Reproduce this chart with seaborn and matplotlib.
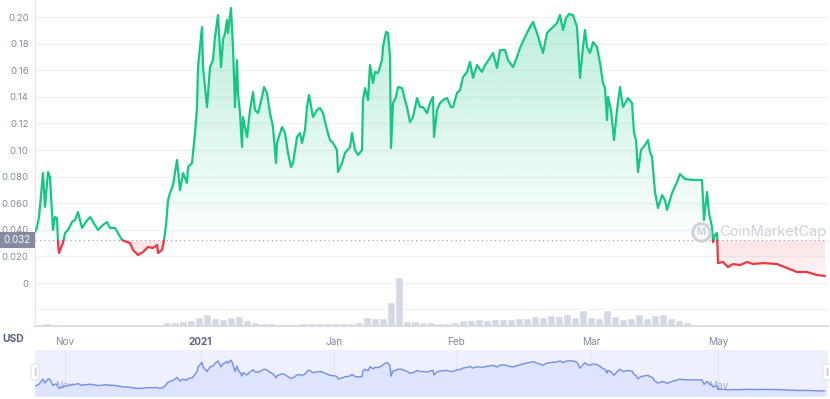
import numpy as np
import pandas as pd
import seaborn as sns
import matplotlib.pyplot as plt
import matplotlib.colors as mcolors
from matplotlib.path import Path
from matplotlib.lines import Line2D
from matplotlib.patches import Rectangle, FancyBboxPatch
from matplotlib.transforms import blended_transform_factory

# days since start of the window and price in USD
days = [0, 0.5, 1, 2, 2.5, 3.25, 3.75, 4.25, 4.5, 5, 5.5, 5.75, 6, 6.75, 7, 7.5, 8.25, 9.25, 10, 10.75,
        11.75, 12.5, 13.75, 15, 15.75, 17, 18, 18.75, 20, 20.75, 21.75, 23, 23.75, 24.5, 25.75, 27, 28.25,
        29.5, 30.5, 30.75, 31.75, 32.25, 32.75, 33.25, 33.75, 34.5, 35.5, 36.25, 37, 38, 38.25, 39.25, 40,
        40.5, 40.75, 41.75, 42, 43, 43.75, 44.5, 45, 45.75, 46.5, 47, 47.5, 48, 48.25, 49, 49.5, 50, 50.5,
        50.75, 51.25, 51.75, 52, 53, 53.75, 54.5, 55, 55.75, 56.75, 57.25, 58, 58.75, 59.5, 60.25, 60.5,
        61.75, 62.5, 63.25, 64, 64.5, 65.5, 66.25, 66.75, 67.5, 68, 68.5, 69.5, 70.5, 71.25, 72, 73, 73.75,
        74.5, 75.5, 75.75, 76.75, 77.5, 78.75, 79.25, 80, 80.75, 81.75, 82, 82.5, 83.25, 83.75, 84.5, 85,
        85.75, 86.75, 87, 87.75, 88.25, 88.75, 89, 89.5, 90.25, 90.75, 91.75, 92.5, 93, 93.75, 94.5, 95.5,
        96.25, 97, 98, 98.75, 99.5, 99.75, 100.5, 101.25, 102, 103, 104, 104.5, 105.5, 106.25, 107, 108,
        108.75, 109.5, 110.5, 111.75, 112.5, 113.75, 114.5, 115.5, 116.25, 117.5, 118.25, 119.5, 120.5,
        121.25, 122.5, 123.75, 124.5, 125.5, 126.25, 127, 128, 129.25, 130.5, 131.25, 132, 132.75, 133.5,
        134.5, 135.5, 136.25, 137, 137.5, 138, 138.75, 139.5, 140.5, 141.25, 142, 142.5, 143, 143.25, 144,
        144.75, 145.5, 146.25, 147, 148.25, 149.25, 149.75, 150.25, 150.75, 151.5, 152.5, 153.25, 153.75,
        154.25, 155, 155.75, 156.75, 157.5, 158, 159.25, 160.5, 161.25, 162.5, 164.5, 166.75, 167.25, 168,
        168.5, 169.25, 169.5, 170, 170.5, 170.75, 172, 173.25, 174.5, 176.25, 178, 179.5, 182, 185.5, 188,
        190.5, 193, 195.5, 197.5]
price = [0.0384, 0.0421, 0.0496, 0.0827, 0.0572, 0.0835, 0.0797, 0.0526, 0.0399, 0.0496, 0.0489, 0.0301,
         0.0226, 0.0286, 0.0301, 0.0376, 0.0399, 0.0459, 0.0474, 0.0534, 0.0414, 0.0451, 0.0496, 0.0436,
         0.0399, 0.0436, 0.0459, 0.0414, 0.0414, 0.0376, 0.0323, 0.0308, 0.0301, 0.0248, 0.0211, 0.0233,
         0.0271, 0.0263, 0.0286, 0.0226, 0.0248, 0.0323, 0.0436, 0.0624, 0.0677, 0.0737, 0.0925, 0.0699,
         0.0827, 0.0752, 0.0872, 0.0902, 0.1128, 0.1323, 0.1624, 0.1925, 0.1624, 0.1323, 0.1624, 0.1677,
         0.1850, 0.2015, 0.1624, 0.1827, 0.1880, 0.1978, 0.1880, 0.2068, 0.1775, 0.1323, 0.1677, 0.1429,
         0.1278, 0.1023, 0.1248, 0.1098, 0.1301, 0.1436, 0.1301, 0.1278, 0.1399, 0.1474, 0.1429, 0.1278,
         0.1173, 0.0902, 0.1053, 0.1173, 0.1128, 0.0978, 0.0872, 0.0902, 0.1098, 0.1128, 0.1053, 0.1151,
         0.1323, 0.1414, 0.1248, 0.1301, 0.1316, 0.1278, 0.1151, 0.1075, 0.1053, 0.1000, 0.0835, 0.0902,
         0.0978, 0.1023, 0.1128, 0.1000, 0.0963, 0.1000, 0.1376, 0.1466, 0.1376, 0.1639, 0.1504, 0.1587,
         0.1579, 0.1677, 0.1775, 0.1888, 0.1880, 0.1700, 0.1015, 0.1354, 0.1399, 0.1474, 0.1466, 0.1376,
         0.1323, 0.1211, 0.1248, 0.1391, 0.1323, 0.1323, 0.1278, 0.1354, 0.1399, 0.1098, 0.1301, 0.1354,
         0.1376, 0.1391, 0.1323, 0.1323, 0.1429, 0.1451, 0.1549, 0.1587, 0.1662, 0.1542, 0.1639, 0.1587,
         0.1639, 0.1692, 0.1730, 0.1617, 0.1752, 0.1752, 0.1677, 0.1624, 0.1700, 0.1767, 0.1850, 0.1925,
         0.1963, 0.1880, 0.1805, 0.1730, 0.1880, 0.1918, 0.1955, 0.2015, 0.1903, 0.1993, 0.2023, 0.2015,
         0.1925, 0.1542, 0.1775, 0.1903, 0.1775, 0.1730, 0.1812, 0.1775, 0.1654, 0.1504, 0.1466, 0.1226,
         0.1399, 0.1301, 0.1075, 0.1301, 0.1474, 0.1323, 0.1391, 0.1354, 0.1128, 0.1075, 0.0835, 0.1000,
         0.1038, 0.1075, 0.0985, 0.0948, 0.0684, 0.0564, 0.0662, 0.0624, 0.0549, 0.0677, 0.0759, 0.0820,
         0.0782, 0.0775, 0.0775, 0.0474, 0.0684, 0.0526, 0.0421, 0.0308, 0.0361, 0.0376, 0.0150, 0.0158,
         0.0120, 0.0143, 0.0135, 0.0158, 0.0143, 0.0150, 0.0143, 0.0113, 0.0083, 0.0083, 0.0060, 0.0053]
assert len(days) == len(price), (len(days), len(price))

# traded volume in 2-day bins (relative heights)
volume = [2, 3, 2, 1, 0.6, 0.6, 0.6, 0.6, 0.6, 0.6, 0.6, 0.6, 0.6, 0.6, 0.6, 0.6,
          4, 4, 5, 6, 9, 12, 8, 7, 9, 10, 6, 4, 3, 3, 2, 2, 2, 3, 3, 3,
          3, 3, 3, 3, 4, 9, 8, 8, 24, 49, 5, 5, 4, 4, 3, 3, 4, 6, 6, 7,
          6, 7, 7, 7, 8, 8, 10, 9, 11, 10, 12, 9, 16, 9, 8, 16, 10, 7, 8, 12,
          8, 11, 12, 8, 6, 4, 0, 0, 0, 0, 0, 0, 0, 0,
          0.7, 0.7, 0.7, 0.7, 0.7, 0.7, 0.7, 0.7, 0.7]

open_price = 0.032
price_ticks = [0, 0.02, 0.04, 0.06, 0.08, 0.10, 0.12, 0.14, 0.16, 0.18, 0.20]
price_labels = ['0', '0.020', '0.040', '0.060', '0.080', '0.10', '0.12', '0.14', '0.16', '0.18', '0.20']
date_ticks = [7.5, 41.25, 74.75, 105.25, 139, 170.75]
date_labels = ['Nov', '2021', 'Jan', 'Feb', 'Mar', 'May']

GREEN = '#16c784'
RED = '#ea3943'
GREY = '#808a9d'
XMAX = 198.25

sns.set_theme(style='white')
plt.rcParams['font.family'] = ['Inter', 'DejaVu Sans']

W, H = 830, 399
fig = plt.figure(figsize=(W / 100, H / 100), dpi=100)
fig.patch.set_facecolor('white')


def px_axes(x0, y0, x1, y1):
    # box given in pixels, y counted from the top
    return fig.add_axes([x0 / W, 1 - y1 / H, (x1 - x0) / W, (y1 - y0) / H])


ax = px_axes(35, 0, 828, 326)
ax_vol = px_axes(35, 270, 828, 326)
ax_nav = px_axes(35, 350, 828, 396)

# split line into runs above / below the open price
xs, ys, side, run = [], [], [], []
r = 0
cur = 'up' if price[0] >= open_price else 'down'
for i in range(len(days)):
    xs.append(days[i]); ys.append(price[i]); side.append(cur); run.append(r)
    if i < len(days) - 1 and (price[i] - open_price) * (price[i + 1] - open_price) < 0:
        t = (open_price - price[i]) / (price[i + 1] - price[i])
        xc = days[i] + t * (days[i + 1] - days[i])
        xs.append(xc); ys.append(open_price); side.append(cur); run.append(r)
        r += 1
        cur = 'down' if cur == 'up' else 'up'
        xs.append(xc); ys.append(open_price); side.append(cur); run.append(r)
line_df = pd.DataFrame({'day': xs, 'price': ys, 'side': side, 'run': run})

X = np.array(xs)
Y = np.array(ys)
up = ax.fill_between(X, Y, open_price, where=Y >= open_price, color='none', lw=0)
down = ax.fill_between(X, Y, open_price, where=Y <= open_price, color='none', lw=0)


def gradient(coll, color, y0, y1, a_bot, a_top):
    rgba = np.zeros((256, 1, 4))
    rgba[..., :3] = mcolors.to_rgb(color)
    rgba[:, 0, 3] = np.linspace(a_bot, a_top, 256)
    im = ax.imshow(rgba, extent=[0, XMAX, y0, y1], origin='lower', aspect='auto',
                   zorder=1, interpolation='bilinear')
    im.set_clip_path(Path.make_compound_path(*coll.get_paths()), transform=ax.transData)


gradient(up, GREEN, open_price, 0.21, 0.01, 0.30)
gradient(down, RED, 0.0, open_price, 0.05, 0.13)

sns.lineplot(data=line_df, x='day', y='price', hue='side', units='run', estimator=None,
             palette={'up': GREEN, 'down': RED}, linewidth=1.6, legend=False, ax=ax, zorder=3)
ax.axhline(open_price, color='#a1a7bb', lw=0.9, ls=(0, (1, 2.5)), zorder=2)

ax.set_xlim(0, XMAX)
ax.set_ylim(-0.0323, 0.2128)
ax.set_yticks(price_ticks, price_labels)
ax.set_xticks([])
ax.set_xlabel('')
ax.set_ylabel('')
ax.set_axisbelow(True)
ax.grid(axis='y', color='#eff2f5', lw=1)
ax.tick_params(axis='y', length=0, pad=4.5, labelsize=6.9, labelcolor=GREY)
for s in ['top', 'right', 'bottom']:
    ax.spines[s].set_visible(False)
ax.spines['left'].set_color('#e6e8ec')
ax.spines['left'].set_linewidth(1)

# volume bars
ax_vol.set_facecolor('none')
bar_days = np.arange(len(volume)) * 2 + 1
sns.barplot(x=bar_days, y=volume, native_scale=True, orient='x', color='#d3d8e2',
            saturation=1, width=0.95, errorbar=None, ax=ax_vol)
ax_vol.set_xlim(0, XMAX)
ax_vol.set_ylim(0, 56)
ax_vol.set_yticks([17], [''])
ax_vol.set_axisbelow(True)
ax_vol.grid(axis='y', color='#eff2f5', lw=1)
ax_vol.set_xticks(date_ticks, date_labels)
ax_vol.set_xlabel('')
ax_vol.set_ylabel('')
ax_vol.tick_params(axis='x', length=3, width=0.8, color='#b8bfcc', pad=5, labelsize=7.2,
                   labelcolor=GREY)
ax_vol.tick_params(axis='y', length=0)
for s in ['top', 'right', 'left']:
    ax_vol.spines[s].set_visible(False)
ax_vol.spines['bottom'].set_color('#d5d9e1')
for lbl in ax_vol.get_xticklabels():
    if lbl.get_text() == '2021':
        lbl.set_fontweight('bold')
        lbl.set_color('#58667e')

# navigator strip
ax_nav.set_facecolor('#eef1fd')
ax_nav.fill_between(days, price, -0.03, color='#dde4fb', lw=0)
sns.lineplot(x=days, y=price, color='#6f8ee9', linewidth=1, ax=ax_nav)
ax_nav.set_xlim(0, XMAX)
ax_nav.set_ylim(-0.028, 0.273)
ax_nav.set_xticks(date_ticks, date_labels)
ax_nav.set_yticks([])
ax_nav.set_xlabel('')
ax_nav.set_ylabel('')
ax_nav.grid(axis='x', color='#e2e7f8', lw=1)
ax_nav.tick_params(axis='x', length=0, pad=-11, labelsize=7.2, labelcolor='#a3abc2')
for s in ax_nav.spines.values():
    s.set_visible(False)
for lbl in ax_nav.get_xticklabels():
    if lbl.get_text() == '2021':
        lbl.set_fontweight('bold')

for hx in (35, 827):
    fig.add_artist(FancyBboxPatch(((hx - 4) / W, 1 - 380 / H), 8 / W, 16 / H,
                                  boxstyle='round,pad=0,rounding_size=0.004',
                                  transform=fig.transFigure, fc='white', ec='#d6dae3', lw=0.6))
    fig.text(hx / W, 1 - 372 / H, '||', ha='center', va='center', fontsize=4.5, color='#a6adbf')

# current price tag
blend = blended_transform_factory(fig.transFigure, ax.transData)
ax.add_patch(Rectangle((0, open_price - 0.006), 35 / W, 0.012, transform=blend,
                       fc='#858ca2', ec='none', clip_on=False, zorder=5))
ax.text(17 / W, open_price, '0.032', transform=blend, ha='center', va='center',
        color='white', fontsize=7.0, zorder=6, clip_on=False)

fig.text(13 / W, 1 - 339 / H, 'USD', ha='center', va='center', fontsize=7.5,
         fontweight='bold', color='#58667e')

# watermark
fig.add_artist(Line2D([701 / W], [1 - 232 / H], marker='o', markersize=12.5, markerfacecolor='none',
                      markeredgecolor='#ced2da', markeredgewidth=2.2, transform=fig.transFigure))
fig.text(701 / W, 1 - 232 / H, 'M', ha='center', va='center', fontsize=7, color='#ced2da',
         fontweight='bold')
fig.text(719 / W, 1 - 232 / H, 'CoinMarketCap', ha='left', va='center', fontsize=10.5,
         color='#ced2da')

fig.savefig('out.png', dpi=100)
